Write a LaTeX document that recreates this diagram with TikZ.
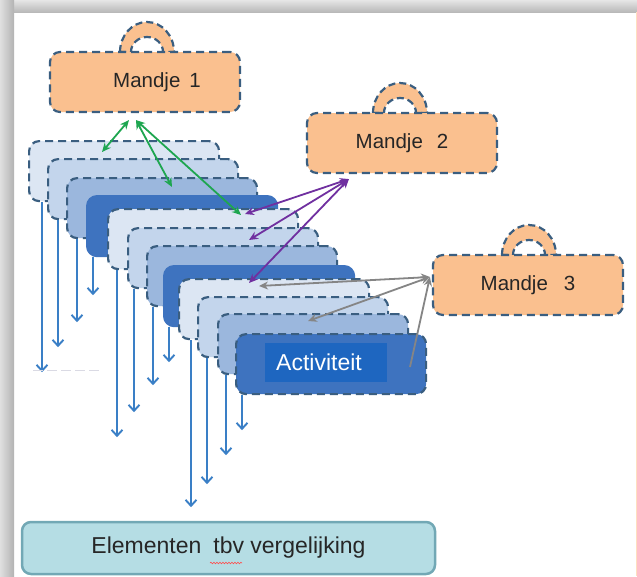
\documentclass[tikz,border=0pt]{standalone}
\usepackage{fontspec}
\setmainfont{Liberation Sans}
\usetikzlibrary{arrows.meta,calc,decorations.pathmorphing}
\definecolor{peach}{HTML}{FAC08F}
\definecolor{dashc}{HTML}{3A5E80}
\definecolor{cA}{HTML}{DCE6F3}
\definecolor{cB}{HTML}{C3D5EC}
\definecolor{cC}{HTML}{9BB7DD}
\definecolor{cD}{HTML}{3E73BF}
\definecolor{actin}{HTML}{1E66C0}
\definecolor{arrblue}{HTML}{3A7FC6}
\definecolor{grn}{HTML}{1EA650}
\definecolor{prp}{HTML}{7030A0}
\definecolor{gry}{HTML}{858585}
\definecolor{tealA}{HTML}{B5DDE4}
\definecolor{tealB}{HTML}{72A8B5}
\newcommand{\mandjehandle}[2]{%
  \path[fill=peach, draw=dashc, line width=2.2pt, dash pattern=on 7pt off 4pt]
    (#1-27,#2) arc[start angle=180, end angle=360, x radius=27, y radius=30]
    -- (#1+16,#2) arc[start angle=0, end angle=-180, x radius=16, y radius=15] -- cycle;}
\begin{document}
\begin{tikzpicture}[x=1pt,y=-1pt,
  dashedborder/.style={draw=dashc, line width=2.2pt, dash pattern=on 8pt off 5pt},
  card/.style={dashedborder, rounded corners=10pt, minimum width=190pt, minimum height=60pt, inner sep=0pt, anchor=north west},
  darkcard/.style={card, solid, draw=cD, fill=cD},
  mandje/.style={dashedborder, fill=peach, rounded corners=10pt, minimum width=190pt, minimum height=60pt, inner sep=0pt, text=black!85, font=\fontsize{20.5}{24}\selectfont},
  down/.style={draw=arrblue, line width=1.9pt, -{Straight Barb[length=6pt,width=11pt]}},
  link/.style={line width=1.8pt, {Stealth[length=9pt,width=8pt]}-{Stealth[length=9pt,width=8pt]}},
]
\useasboundingbox (0,0) rectangle (637,576);
\clip (0,0) rectangle (637,576);
\fill[white] (0,0) rectangle (637,576);
% frame shadow
\shade[top color=gray!20, bottom color=gray!55] (0,0) rectangle (637,12);
\shade[left color=gray!25, right color=gray!60] (0,0) rectangle (14,576);
\draw[orange!25, line width=1pt] (636,12) -- (636,576);

% baskets
\mandjehandle{147}{52}
\node[mandje] (m1) at (145,82) {\hspace*{24pt}Mandje\hspace{9pt}1};
\mandjehandle{400}{113}
\node[mandje] (m2) at (402,143) {Mandje\hspace{14pt}2};
\mandjehandle{529}{255}
\node[mandje] (m3) at (528,285) {Mandje\hspace{16pt}3};

% stacked cards
\node[card, fill=cA] (c1a) at (28,140) {};
\node[card, fill=cB] (c1b) at (47,158) {};
\node[card, fill=cC] (c1c) at (66,177) {};
\node[darkcard]      (c1d) at (86,195) {};
\node[card, fill=cA] (c2a) at (107,208) {};
\node[card, fill=cB] (c2b) at (127,227) {};
\node[card, fill=cC] (c2c) at (146,245) {};
\node[darkcard]      (c2d) at (163,265) {};
\node[card, fill=cA] (c3a) at (178,278) {};
\node[card, fill=cB] (c3b) at (197,296) {};
\node[card, fill=cC] (c3c) at (217,313) {};
\node[card, fill=cD] (c3d) at (235,333) {};
\node[fill=actin, minimum width=122pt, minimum height=39pt, inner sep=0pt, text=white,
      font=\fontsize{23}{27}\selectfont] (act) at (326,362.5) {Activiteit\hspace*{14pt}};

% down arrows
\foreach \n/\dx/\len in {c1a/14/170, c1b/11/127, c1c/11/83, c1d/7/38,
                         c2a/10/167, c2b/7/123, c2c/7/78, c2d/6/35,
                         c3a/13/167, c3b/10/126, c3c/9/80, c3d/7/35}
  \draw[down] ($(\n.south west)+(\dx,0)$) -- ++(0,\len);

\draw[blue!15!gray!25, line width=1pt, dash pattern=on 10pt off 4pt] (33,370) -- (100,370);

% green links
\coordinate (g1) at ($(m1.south)+(-16,7)$);
\coordinate (g2) at ($(m1.south)+(-9,7)$);
\coordinate (ge1) at ($(c1a.north west)+(74,12)$);
\coordinate (ge2) at ($(c1c.north west)+(106,10)$);
\coordinate (ge3) at ($(c2a.north west)+(134,7)$);
\draw[link, grn] (g1) -- (ge1);
\draw[link, grn] (g2) -- (ge2);
\draw[link, grn] (g2) -- (ge3);

% purple links
\coordinate (p0) at ($(m2.south west)+(43,5)$);
\coordinate (pe1) at ($(c2a.north west)+(138,6)$);
\coordinate (pe2) at ($(c2b.north west)+(122,13)$);
\coordinate (pe3) at ($(c3a.north west)+(71,5)$);
\draw[link, prp] (p0) -- (pe1);
\draw[link, prp] (p0) -- (pe2);
\draw[link, prp] (p0) -- (pe3);

% gray links
\coordinate (q0) at ($(m3.west)+(-2,-8)$);
\coordinate (qe1) at ($(c3a.north west)+(81,8)$);
\coordinate (qe2) at ($(c3c.north west)+(91,8)$);
\coordinate (qe3) at ($(c3d.north west)+(175,34)$);
\draw[link, gry] (q0) -- (qe1);
\draw[link, gry] (q0) -- (qe2);
\draw[gry, line width=1.8pt, {Stealth[length=9pt,width=8pt]}-] (q0) -- (qe3);

% bottom box
\node[draw=tealB, fill=tealA, line width=2.5pt, rounded corners=9pt, minimum width=413pt,
      minimum height=52pt, inner sep=0pt, text=black!85, font=\fontsize{23}{27}\selectfont]
      (elem) at (228.5,548) {Elementen\hspace{12pt}tbv vergelijking};
\draw[red!70, line width=0.6pt, decorate, decoration={snake, amplitude=0.8pt, segment length=3pt}]
  (210,563) -- (242,563);
\end{tikzpicture}
\end{document}
